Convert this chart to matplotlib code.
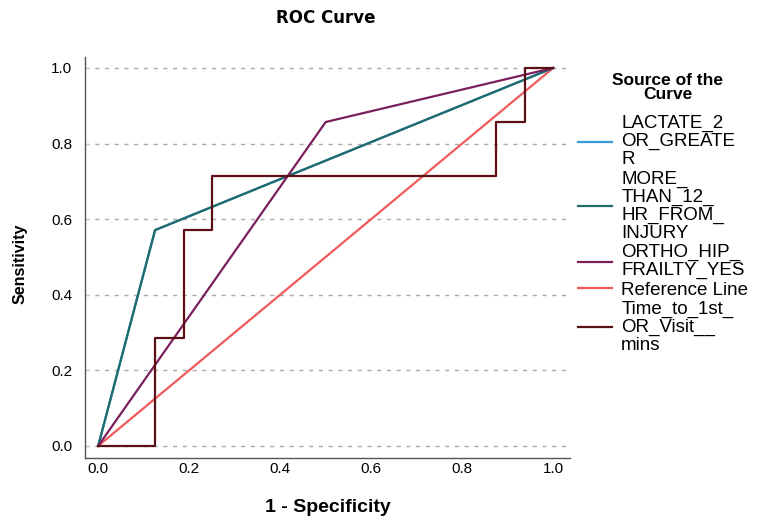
import matplotlib
matplotlib.use("Agg")
import matplotlib.pyplot as plt

# Data (1 - Specificity, Sensitivity)
lactate_x = [0.0, 0.125, 1.0]
lactate_y = [0.0, 0.571, 1.0]
more12_x = [0.0, 0.125, 1.0]
more12_y = [0.0, 0.571, 1.0]
ortho_x = [0.0, 0.5, 1.0]
ortho_y = [0.0, 0.857, 1.0]
ref_x = [0.0, 1.0]
ref_y = [0.0, 1.0]
time_x = [0.0, 0.125, 0.125, 0.1875, 0.1875, 0.25, 0.25, 0.875, 0.875, 0.9375, 0.9375, 1.0]
time_y = [0.0, 0.0, 0.286, 0.286, 0.571, 0.571, 0.714, 0.714, 0.857, 0.857, 1.0, 1.0]

labels = ["LACTATE_2\nOR_GREATE\nR",
          "MORE_\nTHAN_12_\nHR_FROM_\nINJURY",
          "ORTHO_HIP_\nFRAILTY_YES",
          "Reference Line",
          "Time_to_1st_\nOR_Visit__\nmins"]
colors = ["#3a9ad9", "#1f6b6b", "#7a1f5c", "#f05a5a", "#5a1015"]
ticks = [0.0, 0.2, 0.4, 0.6, 0.8, 1.0]

plt.rcParams['font.family'] = ['Liberation Sans', 'DejaVu Sans']

fig = plt.figure(figsize=(7.63, 5.22), dpi=100)
ax = fig.add_axes([85/763, 1 - 458/522, (570-85)/763, (458-57)/522])

lw = 1.6
ax.plot(lactate_x, lactate_y, color=colors[0], lw=lw, label=labels[0], zorder=2)
ax.plot(more12_x, more12_y, color=colors[1], lw=lw, label=labels[1], zorder=3)
ax.plot(ortho_x, ortho_y, color=colors[2], lw=lw, label=labels[2], zorder=3)
ax.plot(ref_x, ref_y, color=colors[3], lw=lw, label=labels[3], zorder=2)
ax.plot(time_x, time_y, color=colors[4], lw=lw, label=labels[4], zorder=4)

ax.set_xlim(-0.029, 1.037)
ax.set_ylim(-0.032, 1.029)
ax.set_xticks(ticks)
ax.set_yticks(ticks)
ax.set_xticklabels([f"{t:.1f}" for t in ticks], fontsize=11)
ax.set_yticklabels([f"{t:.1f}" for t in ticks], fontsize=11)
ax.tick_params(axis="x", length=0, pad=3)
ax.tick_params(axis="y", length=3, direction="in", color="#cccccc", pad=9)
for s in ["top", "right"]:
    ax.spines[s].set_visible(False)
for s in ["left", "bottom"]:
    ax.spines[s].set_color("#555555")
    ax.spines[s].set_linewidth(1.0)
ax.yaxis.grid(True, linestyle=(0, (3, 4)), color="#aaaaaa", lw=1.0)
ax.set_axisbelow(True)

fig.text(326/763, 1 - 18/522, "ROC Curve", ha="center", va="center",
         fontsize=12, fontweight="bold", family=['DejaVu Sans'])
fig.text(328/763, 1 - 508/522, "1 - Specificity", ha="center", va="center",
         fontsize=14, fontweight="bold")
fig.text(20/763, 1 - 264/522, "Sensitivity", ha="center", va="center",
         fontsize=11.5, fontweight="bold", rotation=90)

# legend title
fig.text(668/763, 1 - 87.5/522, "Source of the\nCurve", ha="center", va="center",
         fontsize=12.5, fontweight="bold", linespacing=0.9)

leg = fig.legend(loc="upper left", bbox_to_anchor=(578/763, 1 - 115/522),
                 frameon=False, fontsize=13.5, handlelength=1.8, handletextpad=0.5,
                 labelspacing=0.12, borderaxespad=0, borderpad=0)
for t in leg.get_texts():
    t.set_linespacing(1.07)

fig.savefig("out.png", dpi=100)
